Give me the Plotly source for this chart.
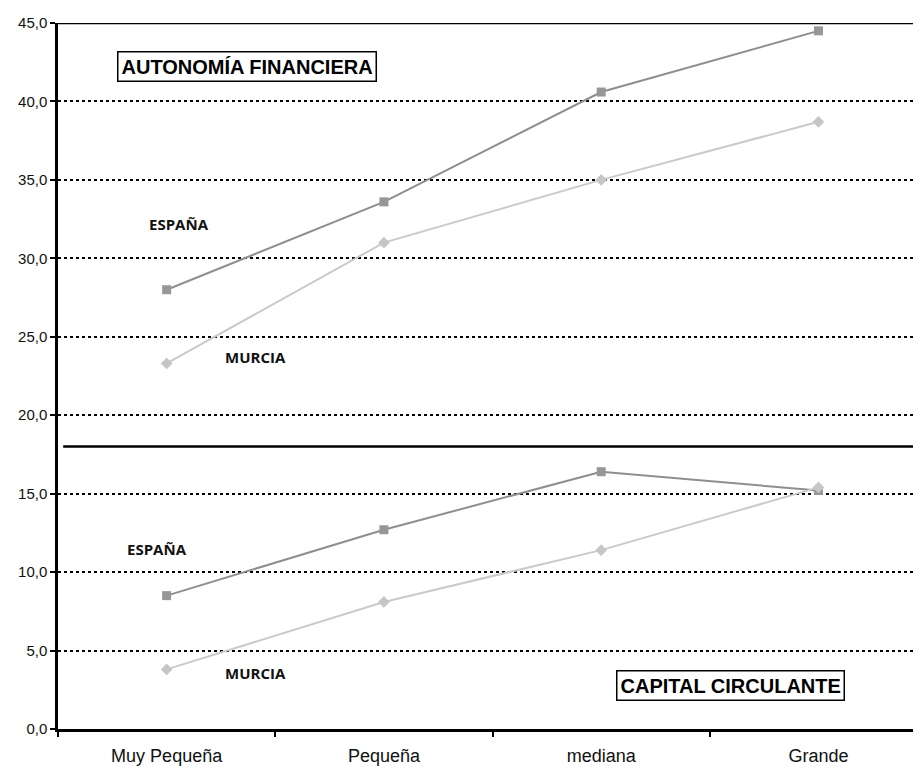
import plotly.graph_objects as go

categories = ["Muy Pequeña", "Pequeña", "mediana", "Grande"]
espana_autonomia = [28.0, 33.6, 40.6, 44.5]
murcia_autonomia = [23.3, 31.0, 35.0, 38.7]
espana_circulante = [8.5, 12.7, 16.4, 15.2]
murcia_circulante = [3.8, 8.1, 11.4, 15.4]
y_ticks = [0, 5, 10, 15, 20, 25, 30, 35, 40, 45]
separator_value = 18.0

ESP_LINE = "#8e8e8e"
ESP_MARK = "#979797"
MUR_LINE = "#cacaca"
MUR_MARK = "#c6c6c6"

fig = go.Figure()

def add_series(vals, line_color, mark_color, symbol, size):
    fig.add_trace(go.Scatter(
        x=categories, y=vals, mode="lines+markers",
        line=dict(color=line_color, width=2),
        marker=dict(symbol=symbol, size=size, color=mark_color),
        showlegend=False, hoverinfo="skip"))

add_series(espana_autonomia, ESP_LINE, ESP_MARK, "square", 9)
add_series(murcia_autonomia, MUR_LINE, MUR_MARK, "diamond", 9)
add_series(espana_circulante, ESP_LINE, ESP_MARK, "square", 9)
add_series(murcia_circulante, MUR_LINE, MUR_MARK, "diamond", 9)

label_font = dict(family="Open Sans", size=15, color="#111111")
box_font = dict(family="Liberation Sans", size=20, color="#000000")

annotations = [
    dict(x=0.057, y=32.2, text="<b>ESPAÑA</b>", font=label_font),
    dict(x=0.411, y=23.7, text="<b>MURCIA</b>", font=label_font),
    dict(x=-0.044, y=11.47, text="<b>ESPAÑA</b>", font=label_font),
    dict(x=0.411, y=3.6, text="<b>MURCIA</b>", font=label_font),
    dict(x=0.3676, y=42.2, text="<b>AUTONOMÍA FINANCIERA</b>", font=box_font,
         bordercolor="#000000", borderwidth=1.5, borderpad=3, bgcolor="white"),
    dict(x=2.596, y=2.8, text="<b>CAPITAL CIRCULANTE</b>", font=box_font,
         bordercolor="#000000", borderwidth=1.5, borderpad=3, bgcolor="white"),
]
for a in annotations:
    a.update(xref="x", yref="y", showarrow=False, xanchor="center", yanchor="middle")

fig.update_layout(
    width=913, height=761,
    margin=dict(l=50, r=0, t=15, b=40),
    paper_bgcolor="white", plot_bgcolor="white",
    separators=",.",
    annotations=annotations,
    shapes=[
        dict(type="line", xref="paper", yref="y", x0=0, x1=1, y0=45, y1=45,
             line=dict(color="#000000", width=2.5), layer="above"),
        dict(type="line", xref="paper", yref="y", x0=0.006, x1=1,
             y0=separator_value, y1=separator_value,
             line=dict(color="#000000", width=2.5), layer="above"),
    ],
    xaxis=dict(
        type="category", range=[-0.5, 3.472],
        showline=True, linecolor="#000000", linewidth=2.5,
        ticks="outside", tickson="boundaries", ticklen=5, tickwidth=1.5, tickcolor="#000000",
        showgrid=False, zeroline=False,
        tickfont=dict(family="Liberation Sans", size=18, color="#111111"),
        ticklabelstandoff=9,
    ),
    yaxis=dict(
        range=[0, 45], tickvals=y_ticks, tickformat=".1f",
        showline=True, linecolor="#000000", linewidth=2.5,
        ticks="outside", ticklen=5, tickwidth=1.5, tickcolor="#000000",
        showgrid=True, gridcolor="#000000", gridwidth=1.5, griddash="3px,3px",
        zeroline=False,
        tickfont=dict(family="Liberation Sans", size=15, color="#111111"),
    ),
)

fig.write_html("out.html")
